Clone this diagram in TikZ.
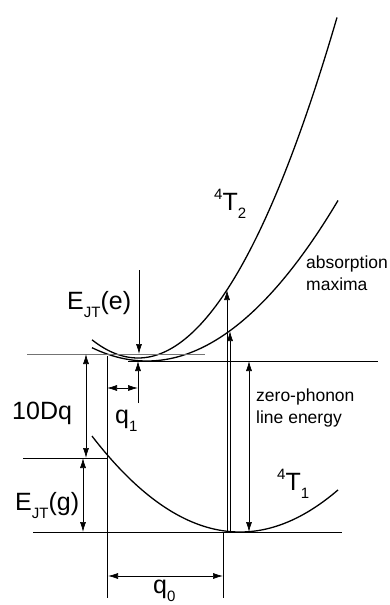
\documentclass[tikz,border=0pt]{standalone}
\usepackage{fontspec}
\setmainfont{Liberation Sans}
\usetikzlibrary{arrows.meta}
\newcommand{\lowsub}[1]{\raisebox{-8pt}{\fontsize{15}{15}\selectfont #1}}
\newcommand{\hisup}[1]{\raisebox{11pt}{\fontsize{15}{15}\selectfont #1}}
\begin{document}
\begin{tikzpicture}[x=1pt, y=-1pt,
    lvl/.style={line width=0.7pt},
    pes/.style={line width=1.3pt},
    arr/.style={-{Latex[length=10pt,width=6pt]}, line width=0.7pt},
    dblarr/.style={{Latex[length=10pt,width=6pt]}-{Latex[length=10pt,width=6pt]}, line width=0.7pt},
    big/.style={font=\fontsize{25}{30}\selectfont, inner sep=0pt},
    small/.style={font=\fontsize{17.5}{22}\selectfont, inner sep=0pt, align=left}]
    \useasboundingbox (0,0) rectangle (389,605);
    % Potential curves (4T2 two branches, 4T1)
    \draw[pes] plot[domain=92:337, samples=80] (\x, {358-0.86*((\x-138)/10)^2});
    \draw[pes] plot[domain=92:338, samples=80] (\x, {361-0.44*((\x-147)/10)^2});
    \draw[pes] plot[domain=92:338, samples=80] (\x, {532-0.438*((\x-240)/10)^2});
    % Levels
    \draw[lvl, black!55] (27,354) -- (205,354);
    \draw[lvl] (128,361) -- (378,361);
    \draw[lvl] (23,458) -- (107,458);
    \draw[lvl] (33,532) -- (342,532);
    \draw[lvl] (107,356) -- (107,598);
    \draw[lvl] (223,532) -- (223,598);
    \draw[arr] (138,403) -- (138,361);
    % Energy and displacement arrows
    \draw[arr] (139,270) -- (139,354);
    \draw[dblarr] (107,388) -- (138,388);
    \draw[dblarr] (86,354) -- (86,458);
    \draw[dblarr] (83,458) -- (83,532);
    \draw[dblarr] (108,576) -- (223,576);
    \draw[dblarr] (249,361) -- (249,532);
    % Absorption
    \draw[arr] (227,532) -- (227,290);
    \draw[arr] (230,532) -- (230,331);
    % Labels
    \node[big, anchor=base west] (ejte) at (67,309) {E\lowsub{JT}(e)};
    \node[big, anchor=base west] (tendq) at (12,419) {10Dq};
    \node[big, anchor=base west] (ejtg) at (15,510) {E\lowsub{JT}(g)};
    \node[big, anchor=base west] (qone) at (115,423) {q\lowsub{1}};
    \node[big, anchor=base west] (qzero) at (153,593) {q\lowsub{0}};
    \node[big, anchor=base west] (ttwo) at (214,210) {\hisup{4}T\lowsub{2}};
    \node[big, anchor=base west] (tone) at (277,490) {\hisup{4}T\lowsub{1}};
    \node[small, anchor=base west] (absmax) at (306,290) {absorption\\maxima};
    \node[small, anchor=base west] (zpl) at (256,423) {zero-phonon\\line energy};
\end{tikzpicture}
\end{document}
